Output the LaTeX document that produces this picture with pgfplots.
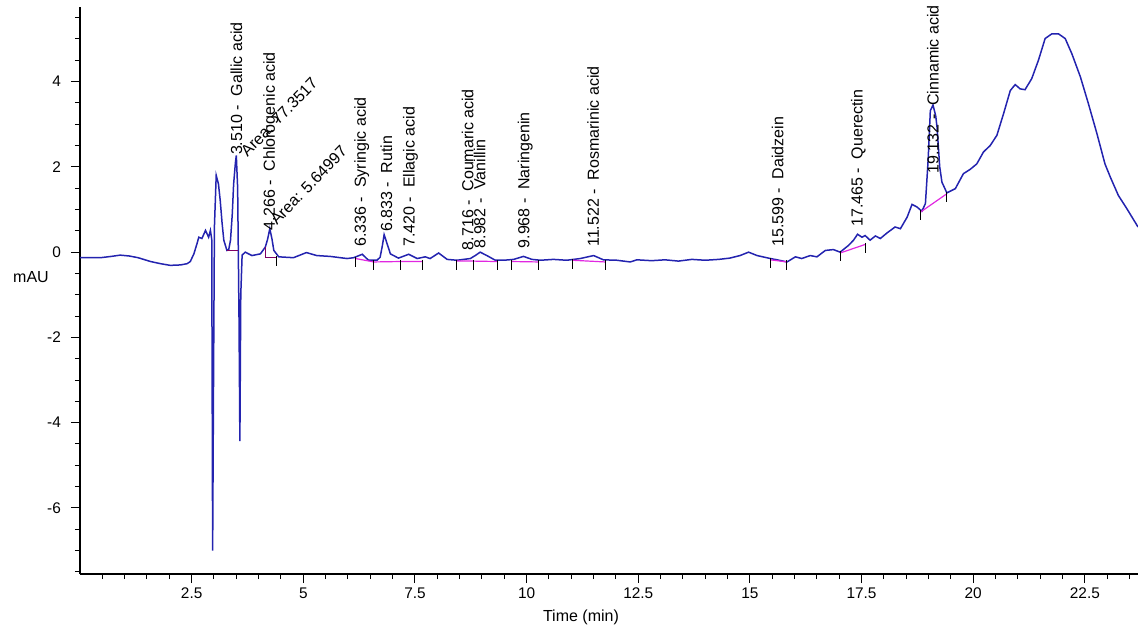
\documentclass[border=0pt]{standalone}
\usepackage{fontspec}
\setmainfont{Liberation Sans}
\usepackage{pgfplots}
\pgfplotsset{compat=1.18}
\usepackage{pgfplotstable}
\definecolor{trace}{RGB}{35,35,175}
\definecolor{bmag}{RGB}{225,40,225}
\definecolor{bpur}{RGB}{128,0,100}
\tikzset{
  lbl/.style={rotate=90, anchor=west, inner sep=0pt, font=\fontsize{8}{9.6}\selectfont},
  alb/.style={rotate=46, anchor=west, inner sep=0pt, font=\fontsize{8}{9.6}\selectfont},
}
\pgfplotstableread{
t y
0.00 -0.13
0.46 -0.13
0.70 -0.10
0.90 -0.07
1.10 -0.09
1.30 -0.13
1.58 -0.22
1.80 -0.27
2.02 -0.31
2.25 -0.30
2.40 -0.27
2.47 -0.22
2.55 -0.04
2.62 0.20
2.66 0.35
2.73 0.32
2.81 0.51
2.88 0.35
2.92 0.51
2.95 0.30
2.97 -7.00
2.99 -3.00
3.01 0.60
3.05 1.80
3.10 1.60
3.14 1.21
3.18 0.70
3.22 0.28
3.29 0.04
3.33 0.06
3.37 0.28
3.41 0.90
3.44 1.60
3.48 2.10
3.50 2.27
3.53 1.50
3.56 -1.50
3.58 -4.43
3.60 -1.00
3.63 -0.07
3.70 0.00
3.85 -0.08
4.04 -0.04
4.15 0.12
4.20 0.30
4.25 0.55
4.30 0.30
4.34 0.04
4.45 -0.11
4.78 -0.13
5.07 -0.01
5.30 -0.08
5.60 -0.10
5.98 -0.15
6.13 -0.13
6.32 -0.05
6.46 -0.19
6.65 -0.19
6.72 -0.12
6.77 0.15
6.81 0.41
6.86 0.25
6.95 -0.04
7.13 -0.14
7.36 -0.05
7.55 -0.15
7.73 -0.11
7.84 -0.15
8.03 -0.02
8.22 -0.17
8.44 -0.19
8.74 -0.15
8.85 -0.08
8.96 0.00
9.11 -0.08
9.30 -0.19
9.49 -0.19
9.71 -0.17
9.93 -0.10
10.12 -0.17
10.31 -0.19
10.60 -0.17
10.90 -0.19
11.20 -0.15
11.50 -0.08
11.72 -0.18
12.02 -0.19
12.32 -0.23
12.47 -0.18
12.80 -0.20
13.10 -0.18
13.40 -0.21
13.70 -0.17
14.00 -0.19
14.30 -0.17
14.55 -0.14
14.78 -0.08
14.97 0.00
15.16 -0.08
15.46 -0.15
15.61 -0.18
15.83 -0.23
16.02 -0.11
16.16 -0.15
16.35 -0.08
16.50 -0.11
16.69 0.04
16.87 0.06
17.02 0.00
17.21 0.16
17.32 0.28
17.41 0.42
17.51 0.35
17.58 0.39
17.69 0.28
17.81 0.38
17.92 0.32
18.07 0.45
18.25 0.59
18.37 0.55
18.52 0.82
18.63 1.12
18.74 1.06
18.85 0.96
18.93 1.14
18.99 2.15
19.04 3.32
19.10 3.45
19.16 3.20
19.19 2.93
19.25 2.00
19.30 1.64
19.41 1.39
19.60 1.49
19.78 1.84
19.93 1.94
20.08 2.07
20.23 2.35
20.38 2.50
20.53 2.74
20.68 3.25
20.83 3.79
20.94 3.93
21.05 3.83
21.16 3.81
21.31 4.07
21.46 4.50
21.61 5.01
21.76 5.12
21.91 5.12
22.06 5.01
22.21 4.65
22.40 4.11
22.58 3.48
22.77 2.78
22.95 2.07
23.07 1.76
23.25 1.33
23.44 1.02
23.69 0.59
}\chrom
\begin{document}
\begin{tikzpicture}
\begin{axis}[
  scale only axis, width=529pt, height=283.5pt,
  xmin=0, xmax=23.69, ymin=-7.55, ymax=5.75,
  axis x line=bottom, axis y line=left,
  axis line style={-, line width=0.6pt},
  xtick={2.5,5,7.5,10,12.5,15,17.5,20,22.5},
  ytick={-6,-4,-2,0,2,4},
  minor xtick={0.5,1,...,23.5},
  minor ytick={-7.5,-7,...,5.5},
  tick align=outside, major tick length=4.5pt, minor tick length=2.5pt,
  tick style={black, line width=0.5pt},
  /pgf/number format/assume math mode=true,
  tick label style={font=\fontsize{7.7}{9.2}\selectfont},
  xticklabel style={yshift=1pt},
  yticklabel style={xshift=-1.5pt},
  xlabel={Time (min)},
  xlabel style={font=\fontsize{8}{9.6}\selectfont, at={(axis description cs:0.4735,0)}, anchor=center, yshift=-21.5pt},
  ylabel={mAU},
  ylabel style={font=\fontsize{8}{9.6}\selectfont, rotate=-90, at={(axis description cs:-0.0463,0.524)}, anchor=center},
  clip=false,
]
\addplot[trace, line width=0.75pt] table[x=t, y=y] {\chrom};
% integration baselines
\addplot[bpur, line width=0.6pt] coordinates {(3.29,0.03) (3.53,0.03)};
\addplot[bpur, line width=0.6pt] coordinates {(4.15,0.12) (4.15,-0.13) (4.41,-0.13)};
\addplot[bmag, line width=0.6pt] coordinates {(6.17,-0.15) (6.58,-0.23)};
\addplot[bmag, line width=0.6pt] coordinates {(6.58,-0.23) (7.17,-0.22) (7.66,-0.22)};
\addplot[bmag, line width=0.6pt] coordinates {(8.44,-0.21) (8.80,-0.21) (9.34,-0.22)};
\addplot[bmag, line width=0.6pt] coordinates {(9.67,-0.22) (10.27,-0.23)};
\addplot[bmag, line width=0.6pt] coordinates {(11.02,-0.19) (11.76,-0.23)};
\addplot[bmag, line width=0.6pt] coordinates {(15.46,-0.18) (15.83,-0.23)};
\addplot[bmag, line width=0.6pt] coordinates {(17.02,-0.02) (17.58,0.18)};
\addplot[bmag, line width=0.6pt] coordinates {(18.82,0.94) (19.41,1.37)};
\addplot[black, only marks, mark=|, mark size=2.5pt, mark options={line width=0.5pt}] coordinates {
(4.41,-0.21) (6.17,-0.23) (6.58,-0.31) (7.17,-0.30) (7.66,-0.30) (8.44,-0.29) (8.80,-0.29)
(9.34,-0.30) (9.67,-0.30) (10.27,-0.31) (11.02,-0.27) (11.76,-0.31) (15.46,-0.26) (15.83,-0.31)
(17.02,-0.10) (17.58,0.10) (18.82,0.86) (19.41,1.29)};
% peak labels
\node[lbl] at (axis cs:3.50,2.27) {3.510 -\ \ Gallic acid};
\node[alb] at (axis cs:3.66,2.30) {Area: 77.3517};
\node[lbl] at (axis cs:4.27,0.51) {4.266 -\ \ Chlorogenic acid};
\node[alb] at (axis cs:4.32,0.70) {Area: 5.64997};
\node[lbl] at (axis cs:6.31,0.12) {6.336 -\ \ Syringic acid};
\node[lbl] at (axis cs:6.86,0.47) {6.833 -\ \ Rutin};
\node[lbl] at (axis cs:7.40,0.12) {7.420 -\ \ Ellagic acid};
\node[lbl] at (axis cs:8.68,0.04) {8.716 -\ \ Coumaric acid};
\node[lbl] at (axis cs:8.95,0.08) {8.982 -\ \ Vanillin};
\node[lbl] at (axis cs:9.97,0.08) {9.968 -\ \ Naringenin};
\node[lbl] at (axis cs:11.49,0.12) {11.522 -\ \ Rosmarinic acid};
\node[lbl] at (axis cs:15.62,0.12) {15.599 -\ \ Daidzein};
\node[lbl] at (axis cs:17.43,0.59) {17.465 -\ \ Querectin};
\node[lbl] at (axis cs:19.10,1.84) {19.132 -\ \ Cinnamic acid};
\end{axis}
\pgfresetboundingbox
\path ([xshift=-40pt,yshift=-27pt]current axis.south west) rectangle ([yshift=3.5pt]current axis.north east);
\end{tikzpicture}
\end{document}
